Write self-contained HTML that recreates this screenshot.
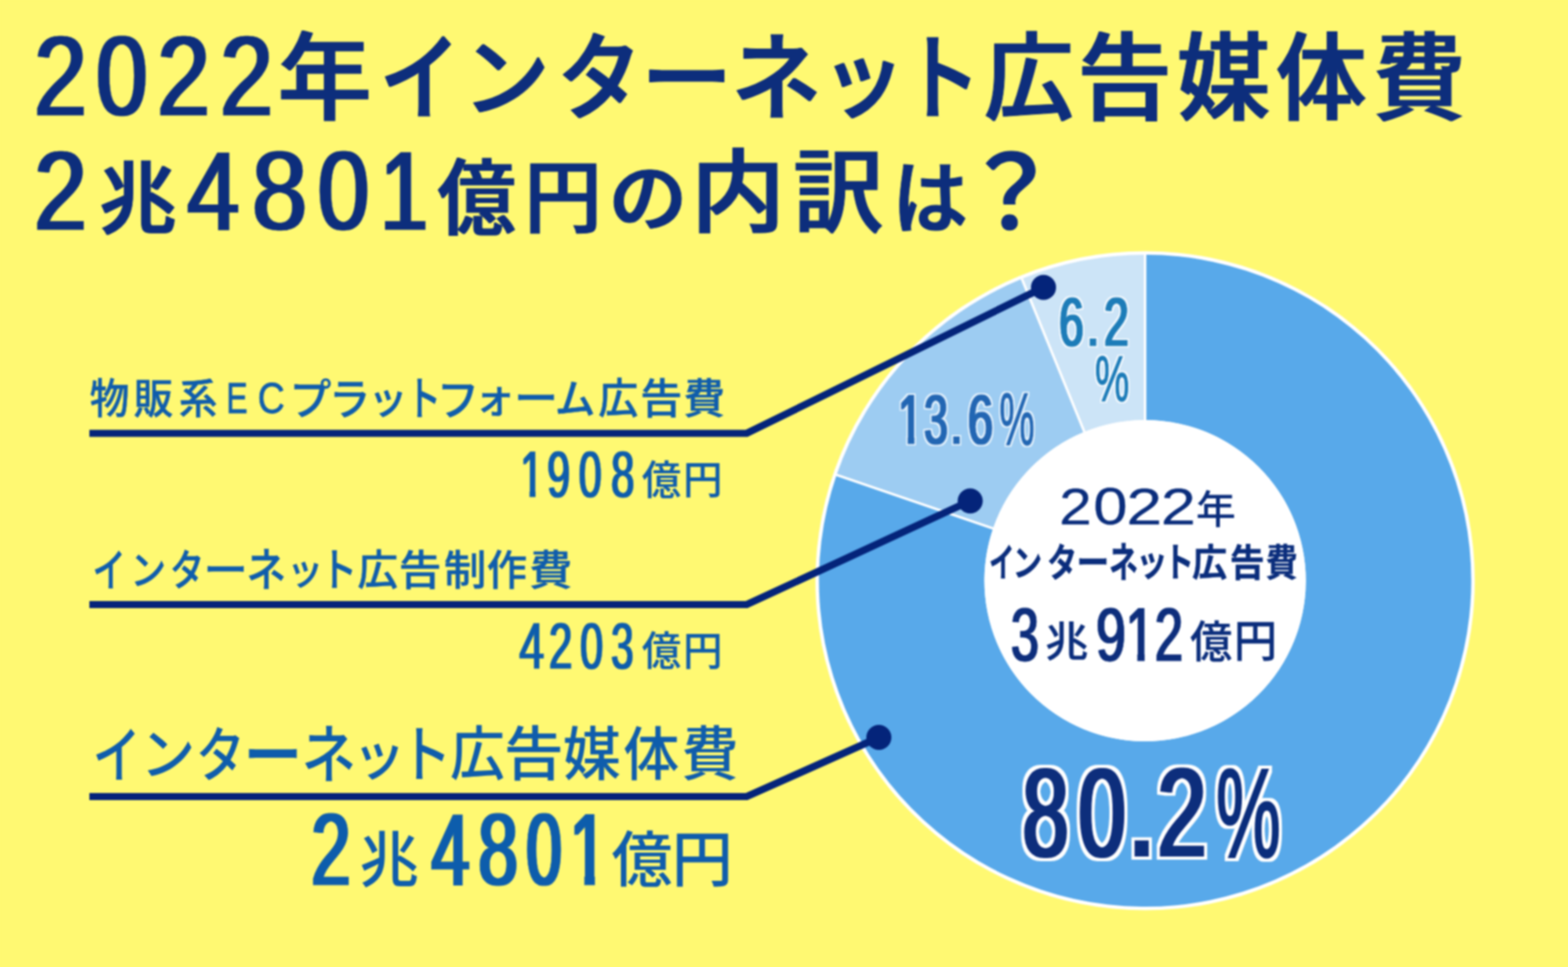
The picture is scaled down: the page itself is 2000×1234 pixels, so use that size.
<!DOCTYPE html>
<html lang="ja">
<head>
<meta charset="utf-8">
<title>2022年インターネット広告媒体費 2兆4801億円の内訳は？</title>
<style>
html,body{margin:0;padding:0;background:#FFF972;}
body{width:2000px;height:1234px;overflow:hidden;}
svg{display:block;font-family:"Liberation Sans","Noto Sans CJK JP",sans-serif;font-size:100px;filter:blur(1.15px);}
text{white-space:pre;vector-effect:non-scaling-stroke;}
</style>
</head>
<body>
<svg width="2000" height="1234" viewBox="0 0 2000 1234">
<defs>
<filter id="halo" x="-20%" y="-20%" width="140%" height="140%" color-interpolation-filters="sRGB">
<feMorphology in="SourceAlpha" operator="dilate" radius="2.2" result="d"/>
<feGaussianBlur in="d" stdDeviation="0.7" result="b"/>
<feFlood flood-color="#fff" flood-opacity="0.7"/>
<feComposite in2="b" operator="in" result="h"/>
<feMerge><feMergeNode in="h"/><feMergeNode in="SourceGraphic"/></feMerge>
</filter>
<filter id="outline" x="-20%" y="-20%" width="140%" height="140%" color-interpolation-filters="sRGB">
<feMorphology in="SourceAlpha" operator="dilate" radius="4" result="d"/>
<feGaussianBlur in="d" stdDeviation="0.6" result="b"/>
<feFlood flood-color="#fff" flood-opacity="1"/>
<feComposite in2="b" operator="in" result="h"/>
<feMerge><feMergeNode in="h"/><feMergeNode in="SourceGraphic"/></feMerge>
</filter>
</defs>
<defs><filter id="d1" filterUnits="userSpaceOnUse" x="0" y="0" width="2000" height="1234"><feMorphology operator="dilate" radius="2 0"/></filter><filter id="d2" filterUnits="userSpaceOnUse" x="0" y="0" width="2000" height="1234"><feMorphology operator="dilate" radius="1 0"/></filter></defs>
<rect width="2000" height="1234" fill="#FFF972"/>
<g>
<circle cx="1460.6" cy="741" r="420.5" fill="#fff"/>
<path d="M1460.60 325.00A416 416 0 1 1 1067.12 605.98L1266.70 674.46A205 205 0 1 0 1460.60 536.00Z" fill="#58A9EA"/>
<path d="M1067.12 605.98A416 416 0 0 1 1303.42 355.84L1383.14 551.20A205 205 0 0 0 1266.70 674.46Z" fill="#9DCCF2"/>
<path d="M1303.42 355.84A416 416 0 0 1 1460.60 325.00L1460.60 536.00A205 205 0 0 0 1383.14 551.20Z" fill="#CCE4F7"/>
<circle cx="1460.6" cy="741" r="205" fill="#fff"/>
<line x1="1460.60" y1="537.00" x2="1460.60" y2="324.00" stroke="#fff" stroke-width="3.2"/>
<line x1="1267.64" y1="674.79" x2="1066.18" y2="605.65" stroke="#fff" stroke-width="3.2"/>
<line x1="1383.52" y1="552.12" x2="1303.04" y2="354.91" stroke="#fff" stroke-width="3.2"/>
</g>
<g>
<polyline points="114,553 952.5,553 1331,366.75" fill="none" stroke="#04247A" stroke-width="9.2" stroke-linejoin="miter"/><circle cx="1331" cy="366.75" r="16" fill="#04247A"/>
<polyline points="114,771.5 952.5,771.5 1237.5,639.2" fill="none" stroke="#04247A" stroke-width="9.2" stroke-linejoin="miter"/><circle cx="1237.5" cy="639.2" r="16" fill="#04247A"/>
<polyline points="114,1016.5 952.5,1016.5 1121,941" fill="none" stroke="#04247A" stroke-width="9.2" stroke-linejoin="miter"/><circle cx="1121" cy="941" r="16" fill="#04247A"/>
</g>
<g><g font-weight="400" fill="#0A2D7C" stroke="#0A2D7C" stroke-width="0.3" stroke-linejoin="miter" filter="url(#d1)"><text transform="matrix(1.2105 0 0 1.4427 43.50 146.95)">2</text><text transform="matrix(1.1820 0 0 1.4427 122.62 146.95)">0</text><text transform="matrix(1.2105 0 0 1.4427 200.40 146.95)">2</text><text transform="matrix(1.2127 0 0 1.4427 280.79 146.95)">2</text></g><g font-weight="500" fill="#0A2D7C" stroke="#0A2D7C" stroke-width="1" stroke-linejoin="miter" filter="url(#d2)"><text transform="matrix(1.1886 0 0 1.2178 354.87 142.88)">年</text><text transform="matrix(1.0201 0 0 1.2178 484.65 142.88)">イ</text><text transform="matrix(1.0990 0 0 1.1101 590.69 139.59)">ン</text><text transform="matrix(1.0720 0 0 1.2178 710.94 142.88)">タ</text><text transform="matrix(1.1555 0 0 1.2178 818.18 142.88)">ー</text><text transform="matrix(1.1414 0 0 1.2178 933.34 142.88)">ネ</text><text transform="matrix(1.0607 0 0 1.1321 1047.99 141.22)">ッ</text><text transform="matrix(0.9777 0 0 1.2178 1152.51 142.88)">ト</text><text transform="matrix(1.1321 0 0 1.2178 1255.86 142.88)">広</text><text transform="matrix(1.1939 0 0 1.2178 1374.84 142.88)">告</text><text transform="matrix(1.1809 0 0 1.2178 1501.65 142.88)">媒</text><text transform="matrix(1.1499 0 0 1.2178 1627.64 142.88)">体</text><text transform="matrix(1.1756 0 0 1.2178 1751.62 142.88)">費</text></g></g>
<g><g font-weight="400" fill="#0A2D7C" stroke="#0A2D7C" stroke-width="0.3" stroke-linejoin="miter" filter="url(#d1)"><text transform="matrix(1.2105 0 0 1.4241 43.50 293.45)">2</text></g><g font-weight="500" fill="#0A2D7C" stroke="#0A2D7C" stroke-width="1" stroke-linejoin="miter" filter="url(#d2)"><text transform="matrix(0.9774 0 0 1.0119 126.89 290.49)">兆</text></g><g font-weight="400" fill="#0A2D7C" stroke="#0A2D7C" stroke-width="0.3" stroke-linejoin="miter" filter="url(#d1)"><text transform="matrix(1.1984 0 0 1.4241 238.81 293.45)">4</text><text transform="matrix(1.2628 0 0 1.4241 321.49 293.45)">8</text><text transform="matrix(1.1820 0 0 1.4241 405.32 293.45)">0</text><text transform="matrix(1.0995 0 0 1.4241 484.69 293.45)">1</text></g><g font-weight="500" fill="#0A2D7C" stroke="#0A2D7C" stroke-width="1" stroke-linejoin="miter" filter="url(#d2)"><text transform="matrix(0.9907 0 0 1.0518 558.41 290.76)">億</text><text transform="matrix(0.9736 0 0 1.0267 669.43 288.58)">円</text></g><g font-weight="500" fill="#0A2D7C" stroke="#0A2D7C" stroke-width="1" stroke-linejoin="miter" filter="url(#d2)"><text transform="matrix(0.9988 0 0 0.9687 776.41 286.92)">の</text><text transform="matrix(1.1892 0 0 1.1591 881.92 287.03)">内</text><text transform="matrix(1.1418 0 0 1.1591 1012.19 287.03)">訳</text><text transform="matrix(0.9553 0 0 1.0268 1138.47 289.88)">は</text></g><g font-weight="500" fill="#0A2D7C" stroke="#0A2D7C" stroke-width="1" stroke-linejoin="miter" filter="url(#d2)"><text transform="matrix(1.2227 0 0 1.2987 1227.99 292.06)">？</text></g></g>
<g><g font-weight="500" fill="#0F5DAC" stroke="#0F5DAC" stroke-width="0.5" stroke-linejoin="miter"><text transform="matrix(0.5054 0 0 0.5343 114.54 527.85)">物</text><text transform="matrix(0.5053 0 0 0.5343 170.44 527.85)">販</text><text transform="matrix(0.4903 0 0 0.5343 228.18 527.85)">系</text></g><g font-weight="400" fill="#0F5DAC" stroke="#0F5DAC" stroke-width="0.9" stroke-linejoin="miter"><text transform="matrix(0.4059 0 0 0.5625 288.82 527.35)">E</text><text transform="matrix(0.4763 0 0 0.5625 328.77 527.35)">C</text></g><g font-weight="500" fill="#0F5DAC" stroke="#0F5DAC" stroke-width="0.5" stroke-linejoin="miter"><text transform="matrix(0.5302 0 0 0.5441 369.49 529.16)">プ</text><text transform="matrix(0.5266 0 0 0.5485 419.68 528.81)">ラ</text><text transform="matrix(0.5014 0 0 0.5120 469.73 527.85)">ッ</text><text transform="matrix(0.4424 0 0 0.5941 518.38 530.41)">ト</text><text transform="matrix(0.5410 0 0 0.5428 557.28 529.81)">フ</text><text transform="matrix(0.5186 0 0 0.5335 605.25 526.82)">ォ</text><text transform="matrix(0.5597 0 0 0.5343 655.86 527.85)">ー</text><text transform="matrix(0.5172 0 0 0.5221 707.83 527.77)">ム</text><text transform="matrix(0.5085 0 0 0.5343 763.13 527.85)">広</text><text transform="matrix(0.5340 0 0 0.5343 816.75 527.85)">告</text><text transform="matrix(0.5311 0 0 0.5343 871.79 527.85)">費</text></g></g>
<g><g font-weight="400" fill="#0F5DAC" stroke="#0F5DAC" stroke-width="0.4" stroke-linejoin="miter" filter="url(#d2)"><clipPath id="k1"><rect x="-60" y="-120" width="95.0" height="111.0"/><rect x="24.2" y="-10.0" width="10.8" height="40.0"/></clipPath><text transform="matrix(0.5270 0 0 0.8277 663.68 633.67)" clip-path="url(#k1)">1</text><text transform="matrix(0.5238 0 0 0.8277 697.89 633.67)">9</text><text transform="matrix(0.5230 0 0 0.8277 738.21 633.67)">0</text><text transform="matrix(0.5342 0 0 0.8277 779.55 633.67)">8</text></g><g font-weight="500" fill="#0F5DAC" stroke="#0F5DAC" stroke-width="0.2" stroke-linejoin="miter"><text transform="matrix(0.5010 0 0 0.5119 818.80 630.70)">億</text><text transform="matrix(0.5036 0 0 0.5012 871.17 630.29)">円</text></g></g>
<g><g font-weight="500" fill="#0F5DAC" stroke="#0F5DAC" stroke-width="0.5" stroke-linejoin="miter"><text transform="matrix(0.4246 0 0 0.5697 118.02 748.30)">イ</text><text transform="matrix(0.4561 0 0 0.5142 166.23 745.51)">ン</text><text transform="matrix(0.4404 0 0 0.5490 216.41 747.39)">タ</text><text transform="matrix(0.5684 0 0 0.5311 259.38 746.78)">ー</text><text transform="matrix(0.5057 0 0 0.5828 314.21 748.34)">ネ</text><text transform="matrix(0.4639 0 0 0.4940 366.05 746.30)">ッ</text><text transform="matrix(0.4703 0 0 0.5795 408.80 748.26)">ト</text><text transform="matrix(0.5159 0 0 0.5311 456.11 746.78)">広</text><text transform="matrix(0.5431 0 0 0.5311 508.69 746.78)">告</text><text transform="matrix(0.5422 0 0 0.5311 566.21 746.78)">制</text><text transform="matrix(0.5118 0 0 0.5311 620.91 746.78)">作</text><text transform="matrix(0.5511 0 0 0.5311 674.89 746.78)">費</text></g></g>
<g><g font-weight="400" fill="#0F5DAC" stroke="#0F5DAC" stroke-width="0.4" stroke-linejoin="miter" filter="url(#d2)"><text transform="matrix(0.5675 0 0 0.8376 662.55 853.46)">4</text><text transform="matrix(0.5351 0 0 0.8376 700.32 853.46)">2</text><text transform="matrix(0.5251 0 0 0.8376 740.10 853.46)">0</text><text transform="matrix(0.5148 0 0 0.8376 779.44 853.46)">3</text></g><g font-weight="500" fill="#0F5DAC" stroke="#0F5DAC" stroke-width="0.2" stroke-linejoin="miter"><text transform="matrix(0.5010 0 0 0.5065 818.80 849.45)">億</text><text transform="matrix(0.5036 0 0 0.5116 871.17 849.40)">円</text></g></g>
<g><g font-weight="500" fill="#0F5DAC"><text transform="matrix(0.6168 0 0 0.7819 118.01 991.69)">イ</text><text transform="matrix(0.6942 0 0 0.7163 179.54 988.39)">ン</text><text transform="matrix(0.6278 0 0 0.7620 249.80 991.49)">タ</text><text transform="matrix(0.7562 0 0 0.9435 310.29 998.48)">ー</text><text transform="matrix(0.6966 0 0 0.8030 384.46 991.58)">ネ</text><text transform="matrix(0.6806 0 0 0.6892 449.40 988.95)">ッ</text><text transform="matrix(0.6673 0 0 0.7928 509.48 991.45)">ト</text><text transform="matrix(0.6987 0 0 0.7446 573.88 989.05)">広</text><text transform="matrix(0.7608 0 0 0.7446 642.64 989.05)">告</text><text transform="matrix(0.7383 0 0 0.7446 718.04 989.05)">媒</text><text transform="matrix(0.7138 0 0 0.7446 794.99 989.05)">体</text><text transform="matrix(0.7322 0 0 0.7446 869.04 989.05)">費</text></g></g>
<g><g font-weight="400" fill="#0F5DAC" stroke="#0F5DAC" stroke-width="0.9" stroke-linejoin="miter" filter="url(#d1)"><text transform="matrix(0.8925 0 0 1.2951 397.19 1129.35)">2</text></g><g font-weight="500" fill="#0F5DAC"><text transform="matrix(0.7586 0 0 0.7716 458.62 1124.86)">兆</text></g><g font-weight="400" fill="#0F5DAC" stroke="#0F5DAC" stroke-width="0.9" stroke-linejoin="miter" filter="url(#d1)"><clipPath id="k2"><rect x="-60" y="-120" width="95.1" height="110.9"/><rect x="24.1" y="-10.1" width="11.0" height="40.1"/></clipPath><text transform="matrix(0.8671 0 0 1.2951 550.54 1129.35)">4</text><text transform="matrix(0.9017 0 0 1.2951 610.18 1129.35)">8</text><text transform="matrix(0.8054 0 0 1.2951 671.43 1129.35)">0</text><text transform="matrix(0.8581 0 0 1.2951 726.68 1129.35)" clip-path="url(#k2)">1</text></g><g font-weight="500" fill="#0F5DAC"><text transform="matrix(0.7770 0 0 0.7700 779.91 1125.33)">億</text><text transform="matrix(0.7806 0 0 0.7831 856.79 1125.22)">円</text></g></g>
<g filter="url(#halo)"><g font-weight="400" fill="#1B7BB8" stroke="#1B7BB8" stroke-width="1" stroke-linejoin="miter" filter="url(#d2)"><text transform="matrix(0.5606 0 0 0.8739 1350.90 441.40)">6</text><text transform="matrix(0.5851 0 0 0.7925 1386.12 441.40)">.</text><text transform="matrix(0.5658 0 0 0.8739 1408.37 441.40)">2</text></g><g font-weight="400" fill="#1B7BB8" stroke="#1B7BB8" stroke-width="1.2" stroke-linejoin="miter"><text transform="matrix(0.4902 0 0 0.8200 1396.74 512.21)">%</text></g></g>
<g filter="url(#halo)"><g font-weight="400" fill="#2266B3" stroke="#2266B3" stroke-width="1" stroke-linejoin="miter" filter="url(#d2)"><clipPath id="k3"><rect x="-60" y="-120" width="95.5" height="110.6"/><rect x="23.7" y="-10.4" width="11.8" height="40.4"/></clipPath><text transform="matrix(0.5611 0 0 0.8969 1145.52 565.50)" clip-path="url(#k3)">1</text><text transform="matrix(0.5443 0 0 0.8969 1178.73 565.50)">3</text><text transform="matrix(0.5745 0 0 0.7736 1212.11 566.20)">.</text><text transform="matrix(0.5779 0 0 0.8969 1234.51 565.50)">6</text></g><g font-weight="400" fill="#2266B3" stroke="#2266B3" stroke-width="1.2" stroke-linejoin="miter"><text transform="matrix(0.5049 0 0 0.9529 1274.78 566.63)">%</text></g></g>
<g filter="url(#outline)"><g font-weight="400" fill="#0A2D7C" stroke="#0A2D7C" stroke-width="1.6" stroke-linejoin="miter" filter="url(#d1)"><text transform="matrix(1.0470 0 0 1.5996 1304.39 1091.90)">8</text><text transform="matrix(1.0774 0 0 1.5996 1375.69 1091.90)">0</text><text transform="matrix(1.3298 0 0 1.7453 1437.77 1092.30)">.</text><text transform="matrix(1.1184 0 0 1.5996 1476.41 1091.90)">2</text></g><g font-weight="400" fill="#0A2D7C" stroke="#0A2D7C" stroke-width="3" stroke-linejoin="miter"><text transform="matrix(0.9242 0 0 1.5943 1551.37 1092.84)">%</text></g></g>
<g><g font-weight="400" fill="#0A2D7C" stroke="#0A2D7C" stroke-width="0.3" stroke-linejoin="miter"><text transform="matrix(0.7478 0 0 0.6576 1351.11 669.15)">2</text><text transform="matrix(0.7845 0 0 0.6576 1394.51 669.15)">0</text><text transform="matrix(0.8180 0 0 0.6576 1436.76 669.15)">2</text><text transform="matrix(0.8004 0 0 0.6576 1480.85 669.15)">2</text></g><g font-weight="500" fill="#0A2D7C"><text transform="matrix(0.5077 0 0 0.4968 1525.47 668.33)">年</text></g></g>
<g><g font-weight="700" fill="#0A2D7C" stroke="#0A2D7C" stroke-width="0.3" stroke-linejoin="miter"><text transform="matrix(0.3257 0 0 0.4988 1261.43 736.26)">イ</text><text transform="matrix(0.3786 0 0 0.4674 1291.46 734.57)">ン</text><text transform="matrix(0.3854 0 0 0.4945 1335.54 736.29)">タ</text><text transform="matrix(0.4201 0 0 0.4808 1372.98 735.16)">ー</text><text transform="matrix(0.3708 0 0 0.5331 1414.47 737.46)">ネ</text><text transform="matrix(0.4056 0 0 0.4840 1449.10 735.10)">ッ</text><text transform="matrix(0.3865 0 0 0.5108 1484.60 736.20)">ト</text><text transform="matrix(0.4477 0 0 0.4756 1520.57 735.28)">広</text><text transform="matrix(0.4461 0 0 0.4756 1568.53 735.28)">告</text><text transform="matrix(0.4112 0 0 0.4756 1614.32 735.28)">費</text></g></g>
<g><g font-weight="400" fill="#0A2D7C" stroke="#0A2D7C" stroke-width="0.7" stroke-linejoin="miter" filter="url(#d2)"><text transform="matrix(0.6392 0 0 0.9590 1289.62 842.99)">3</text></g><g font-weight="500" fill="#0A2D7C" stroke="#0A2D7C" stroke-width="0.3" stroke-linejoin="miter"><text transform="matrix(0.5496 0 0 0.5335 1333.16 838.35)">兆</text></g><g font-weight="400" fill="#0A2D7C" stroke="#0A2D7C" stroke-width="0.7" stroke-linejoin="miter" filter="url(#d2)"><clipPath id="k4"><rect x="-60" y="-120" width="95.1" height="110.8"/><rect x="24.1" y="-10.2" width="11.1" height="40.2"/></clipPath><text transform="matrix(0.6818 0 0 0.9590 1397.91 842.99)">9</text><text transform="matrix(0.6644 0 0 0.9590 1435.66 842.99)" clip-path="url(#k4)">1</text><text transform="matrix(0.6469 0 0 0.9590 1472.92 842.99)">2</text></g><g font-weight="500" fill="#0A2D7C" stroke="#0A2D7C" stroke-width="0.3" stroke-linejoin="miter"><text transform="matrix(0.5384 0 0 0.5605 1517.90 839.24)">億</text><text transform="matrix(0.5540 0 0 0.5603 1573.69 838.44)">円</text></g></g>
</svg>
</body>
</html>
